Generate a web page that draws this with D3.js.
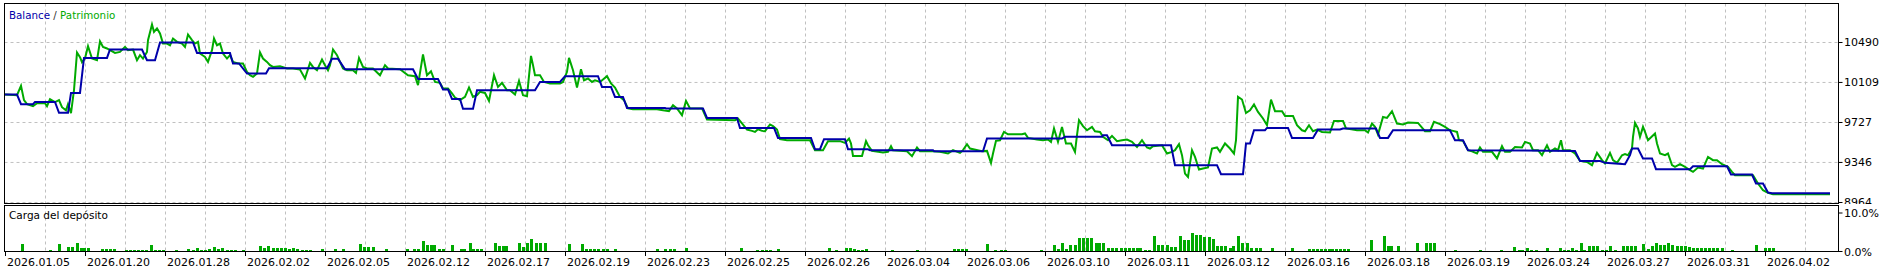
<!DOCTYPE html>
<html lang="es">
<head>
<meta charset="UTF-8">
<title>Balance / Patrimonio</title>
<style>
  html, body { margin: 0; padding: 0; background: #fff; }
  svg { display: block; }
  text { font-family: "DejaVu Sans", sans-serif; }
</style>
</head>
<body>
<script src="https://d3js.org/d3.v7.min.js"></script>
<script>
// x = deal number, y = account value
var dates = ["2026.01.05","2026.01.20","2026.01.28","2026.02.02","2026.02.05","2026.02.12",
  "2026.02.17","2026.02.19","2026.02.23","2026.02.25","2026.02.26","2026.03.04","2026.03.06",
  "2026.03.10","2026.03.11","2026.03.12","2026.03.16","2026.03.18","2026.03.19","2026.03.24",
  "2026.03.27","2026.03.31","2026.04.02"];
var dateStep = 20;              // deals between two date labels
var yTicks = [10490, 10109, 9727, 9346, 8964];
var loadTicks = [10, 0];

var equity = [
  [0,9994],[3,9987],[4,10076],[4.75,9940],[5.5,9902],[7,9882],[8,9911],[10,9911],[10.5,9882],
  [11.25,9949],[12.5,9921],[13.5,9940],[14.25,9873],[15.25,9844],[15.75,9902],[16.5,9816],
  [17.25,10035],[18,10395],[18.75,10350],[19.25,10302],[20,10340],[20.75,10455],[21.75,10337],
  [23,10321],[23.75,10502],[24.5,10448],[25.5,10433],[26.25,10417],[27.5,10391],[28.75,10400],
  [30,10448],[30.75,10417],[32,10423],[33,10321],[33.75,10369],[34.5,10337],[35.5,10400],
  [35.75,10512],[36.75,10662],[37.25,10591],[38,10624],[38.75,10576],[39.5,10480],[40.5,10480],
  [41.25,10464],[42,10528],[43,10496],[44.25,10480],[45,10448],[45.75,10566],[46.75,10512],
  [47.5,10480],[48.25,10496],[48.75,10385],[50,10353],[50.75,10305],[51.75,10417],[52.25,10528],
  [53,10464],[53.75,10480],[54.5,10385],[55.5,10337],[56.25,10369],[57,10305],[58.25,10290],
  [59.5,10290],[60.5,10210],[61.25,10178],[62,10162],[63,10194],[63.75,10395],[64.5,10337],
  [65.5,10305],[66.25,10274],[67,10257],[68.75,10264],[70.5,10242],[72,10242],[73.75,10232],
  [75,10147],[76.25,10295],[77,10257],[78,10226],[79.25,10328],[80,10274],[80.75,10226],
  [81.25,10274],[82,10423],[83,10369],[83.75,10305],[84.5,10242],[85.5,10226],[87,10226],
  [87.75,10200],[88.5,10343],[89.5,10257],[90.5,10242],[92,10242],[93.75,10178],[95,10274],
  [95.75,10242],[98.75,10235],[100.75,10178],[102.5,10169],[103.25,10083],[104.5,10376],
  [105.5,10178],[106.5,10216],[107.5,10114],[108.75,10105],[109.5,10051],[110.75,10051],
  [111.75,10004],[112.5,9965],[113.75,9940],[115,9971],[116,10061],[117,9971],[118,9987],
  [118.75,10019],[120,10009],[121,9933],[122.25,10178],[123.25,10066],[124.25,10105],
  [125.5,10035],[126.25,10035],[127.5,9994],[128.5,10124],[129.5,9987],[130.5,9978],
  [131.5,10362],[132,10274],[132.5,10178],[133.75,10178],[134.75,10114],[136.25,10099],
  [138.75,10099],[139.5,10114],[140.5,10210],[141,10343],[142,10226],[143,10061],[144,10235],
  [144.75,10130],[145.75,10147],[146.75,10114],[147.5,10130],[148.75,10114],[149.5,10137],
  [150.5,10169],[151.5,10099],[152.5,10061],[153.75,9971],[154.75,9940],[155.75,9861],
  [157,9854],[163,9854],[164.5,9844],[166,9835],[167,9892],[168,9861],[169.25,9797],
  [170.25,9933],[171.25,9861],[174.25,9861],[175.5,9756],[182.5,9749],[183.25,9765],
  [184.25,9718],[185.5,9660],[186.75,9647],[187.5,9637],[188.25,9663],[189.25,9647],[190,9644],
  [191.25,9708],[192,9692],[193,9660],[193.75,9568],[195.5,9558],[201.25,9558],[202.5,9463],
  [204.5,9463],[205.75,9549],[208.75,9549],[210,9532],[211,9574],[211.5,9527],[212,9408],
  [214.25,9408],[215.25,9549],[215.75,9510],[216.75,9456],[219.5,9441],[220.75,9447],
  [221.5,9501],[222,9463],[225.5,9453],[226.75,9406],[228,9489],[228.75,9453],[232,9453],
  [233.75,9447],[235.75,9431],[237,9463],[238.75,9437],[239.5,9463],[240.5,9520],[241.25,9479],
  [244.25,9453],[245.5,9456],[246.5,9342],[247,9431],[247.75,9552],[248.75,9558],[249.75,9637],
  [250.75,9615],[254.25,9615],[255,9622],[255.75,9580],[258,9565],[259.5,9558],[260.75,9565],
  [261.5,9542],[262.25,9670],[263.25,9542],[264.25,9685],[265.25,9527],[266.5,9527],
  [267.5,9447],[268,9606],[268.5,9749],[269.5,9692],[270.5,9653],[271.75,9685],[272.5,9644],
  [273.75,9637],[274.5,9590],[275.75,9558],[276.75,9599],[278,9549],[279.25,9558],[280.5,9565],
  [281.75,9542],[283,9494],[284.25,9558],[285.5,9489],[286.25,9479],[287,9501],[289.25,9510],
  [290.5,9431],[291.75,9447],[292.5,9463],[293.5,9520],[294.25,9415],[295,9240],[295.75,9208],
  [296.75,9463],[297.5,9399],[298.5,9279],[299.5,9288],[300.75,9298],[301.75,9479],[303,9489],
  [303.75,9447],[305,9527],[306.25,9479],[307.25,9431],[307.75,9558],[308.25,9971],
  [309.25,9946],[310.25,9818],[311.25,9844],[312.25,9899],[313.25,9828],[314.5,9765],
  [315.5,9701],[316.5,9946],[317.5,9835],[319.25,9835],[320,9790],[322,9790],[323,9701],
  [324.25,9653],[325,9644],[326,9701],[327,9644],[328,9660],[329.25,9637],[331.25,9632],
  [332.25,9742],[334.5,9742],[335.25,9670],[338,9653],[340,9653],[340.75,9632],[341.75,9717],
  [342.5,9685],[343.25,9612],[344.5,9780],[345.5,9771],[346.75,9835],[348,9717],[349.5,9708],
  [350.75,9727],[353.25,9723],[354.25,9679],[355,9644],[356.25,9644],[357.25,9733],
  [358.75,9711],[360,9685],[361.25,9653],[362,9647],[363,9637],[363.5,9558],[364.5,9552],
  [365.75,9463],[366.75,9453],[368,9431],[368.75,9489],[369.5,9447],[371.75,9447],[373,9384],
  [374.25,9501],[375,9447],[376.25,9447],[377.5,9494],[379.25,9489],[380,9542],[381.25,9527],
  [382,9463],[383.25,9463],[384.25,9415],[385.5,9510],[386.25,9447],[387.5,9479],[388.25,9463],
  [389,9558],[389.5,9463],[391.25,9463],[392.5,9431],[393.75,9361],[395.5,9351],[396.75,9320],
  [398,9437],[399.25,9368],[400,9336],[401.25,9437],[402,9368],[403,9342],[404.25,9415],
  [405,9425],[405.75,9415],[406.75,9479],[407,9590],[407.5,9723],[408.25,9670],[408.75,9590],
  [409.5,9685],[410,9637],[410.75,9558],[412.5,9622],[413,9527],[413.75,9431],[415,9415],
  [415.75,9431],[416.75,9320],[417.5,9304],[418.75,9329],[420,9304],[421.25,9272],[422,9256],
  [423.25,9298],[424.5,9288],[425.75,9399],[427,9368],[428,9368],[429.25,9329],[430.75,9304],
  [431.75,9256],[432.5,9224],[437,9224],[438.25,9145],[439.5,9081],[440.75,9056],[442,9043],
  [456.25,9043]
];

var balance = [
  [0,9994],[3,9994],[4,9902],[7,9902],[7.5,9923],[12.5,9923],[13.5,9819],[15.75,9819],
  [16.5,10009],[18.75,10009],[19.75,10343],[25.5,10343],[26.25,10423],[34.25,10423],
  [35.5,10321],[37.5,10321],[38.75,10490],[47,10490],[48,10391],[56.25,10391],[57,10290],
  [58.5,10290],[60.5,10194],[65.25,10194],[66,10245],[80.5,10245],[81.75,10334],[83.25,10334],
  [85,10235],[102,10235],[103.25,10143],[108.25,10143],[109.5,10042],[110.75,10042],
  [111.75,9952],[113.75,9952],[114.5,9857],[117,9857],[118,10035],[132.5,10035],[133.75,10114],
  [138.75,10114],[140,10169],[148.25,10169],[149.25,10066],[151.5,10066],[152.5,9971],
  [154.5,9971],[155.5,9866],[165,9866],[165.25,9861],[174.5,9861],[175.5,9771],[183,9771],
  [183.75,9675],[192.25,9675],[193.25,9580],[201.5,9580],[202.5,9472],[203.75,9472],
  [204.75,9568],[210,9568],[210.75,9472],[215.75,9472],[216.25,9463],[232,9463],[232.25,9453],
  [244.5,9453],[245.5,9574],[264.25,9574],[265,9590],[274.25,9590],[274.5,9606],[275.5,9606],
  [276.75,9510],[291.5,9510],[292.5,9320],[303,9320],[304,9234],[309.5,9234],[310.25,9527],
  [311.25,9527],[312.25,9653],[315,9653],[315.5,9675],[320.75,9675],[321.75,9580],[327,9580],
  [328.25,9660],[333.75,9660],[334.5,9670],[342.75,9670],[343.75,9580],[345.75,9580],
  [347,9653],[361.25,9653],[362.5,9558],[364.5,9558],[365.75,9463],[392.5,9456],[393.75,9361],
  [398.75,9361],[400,9342],[405,9329],[406.25,9415],[406.75,9479],[408.25,9479],[409.5,9384],
  [411.75,9384],[412.75,9282],[421.25,9282],[422,9310],[430.5,9310],[431.5,9231],[436.75,9231],
  [437.75,9145],[439.5,9145],[440.75,9059],[441.75,9053],[456.25,9053]
];

// deposit load, % per deal
var load = [
  [4.25,1.9],[11.25,0.4],[13.5,1.9],[15.75,1.2],[16.75,1.2],[18,2.2],[19,1.0],[19.75,1.0],
  [20.75,0.9],[24.25,0.7],[25.25,0.7],[26.25,0.7],[27.25,0.7],[30.25,0.3],[31.25,0.3],
  [32.25,0.3],[33.25,0.3],[34.25,0.3],[35.25,0.3],[36.5,1.7],[37.5,0.3],[38.5,0.3],[39.5,0.3],
  [42.75,0.3],[45.75,0.7],[47,0.3],[48,0.9],[49,0.4],[50,0.4],[51,0.6],[52.25,1.2],[53.25,0.6],
  [54.25,0.9],[55.5,0.4],[56.5,0.4],[57.5,0.4],[59.5,0.4],[63.75,1.4],[64.75,1.0],[65.75,1.4],
  [67,1.0],[68,1.0],[69,1.0],[70,1.0],[71,0.6],[72,0.9],[73,0.6],[74.25,0.4],[75.25,0.4],
  [76.25,0.4],[79.25,0.7],[82.5,0.7],[84.5,0.7],[88.75,1.9],[89.75,1.2],[90.75,1.2],[92,1.2],
  [95.25,0.7],
  [100.4,0.7],[102.3,0.7],[103.25,0.7],[104.5,2.6],[105.5,1.8],[106.4,1.8],[107.35,1.8],
  [108.6,0.7],[109.55,0.7],[111.85,1.7],[113.9,0.7],[114.8,0.7],[116.2,2.2],[117.1,0.7],
  [118.1,0.7],[119,0.7],[122.5,2.3],[123.4,1.3],[124.4,1.3],[125.35,1.3],[128.6,2.3],
  [129.55,1.1],[130.5,2.2],[131.6,3.3],[132.7,2.3],[133.85,2.3],[134.9,2.3],[141.1,2.0],
  [144.2,2.0],[145.35,0.7],[146.3,0.7],[147.25,0.7],[148.2,0.7],[149.45,0.7],[150.6,0.7],
  [152.6,0.7],[163,0.7],[165,0.7],[166.2,0.7],[167.15,0.7],[170.3,1.0],[183.9,1.0],[188,0.4],
  [189.15,0.4],[190.3,0.4],[191.35,0.4],[193.3,0.7],[205.9,1.0],[207.8,0.3],[210.2,1.0],
  [211.35,1.0],[212.3,0.7],[213.25,0.3],[214.2,0.3],[215.3,0.7],[221.7,0.3],[227.9,0.5],
  [237.2,0.7],[238.2,0.7],[239.2,0.7],[240.15,0.7],[245.6,2.0],[247.5,0.5],
  [249,0.5],[250,0.5],[259.1,0.3],[262.15,1.6],[263.3,0.7],[264.25,2.2],[265.2,0.7],
  [266.25,1.6],[267.4,1.6],[268.55,3.5],[269.6,3.5],[270.55,3.5],[271.5,3.5],[272.7,2.2],
  [273.6,2.2],[274.6,2.2],[275.8,1.0],[276.8,1.0],[277.7,1.0],[279.1,1.0],[280,1.0],[281,1.0],
  [281.95,1.0],[282.9,1.0],[283.85,1.0],[285.1,0.5],[286,0.5],[287.3,3.9],[288.25,1.8],
  [289.2,1.8],[290.55,1.8],[291.5,1.1],[292.5,1.1],[293.7,3.9],[294.7,3.0],[295.8,3.0],
  [296.8,4.9],[297.8,4.2],[298.8,4.2],[299.75,3.7],[300.9,3.7],[302,3.3],[303.1,1.4],[304,1.4],
  [305,1.4],[306.15,1.0],[307.1,1.4],[308.35,3.9],[309.3,2.2],[310.45,2.2],[311.6,1.0],
  [312.65,1.0],[313.8,1.0],[316.7,1.0],[321.75,1.0],[326,0.7],[327,0.7],[328,0.7],[328.9,0.7],
  [329.9,0.7],[330.9,0.7],[331.8,0.7],[332.8,0.7],[333.8,0.7],[334.7,0.7],[335.7,0.7],
  [341.55,2.9],[344.7,3.9],[345.65,1.4],[346.6,1.4],[348.25,1.4],[353,2.2],[355.2,2.2],
  [356.2,2.2],[357.3,2.2],[362.6,0.3],[368.8,0.3],[374.1,0.3],[377.2,1.1],[378.4,0.5],
  [379.3,0.5],[380.5,1.0],[381.4,0.3],[382.7,0.3],[385.55,1.0],[388.7,1.0],[389.85,0.3],
  [390.8,0.3],[391.8,1.0],[392.7,0.3],[393.9,2.2],[394.8,0.5],[396.1,1.3],[397,1.3],[398,1.3],
  [399.25,0.4],[400.25,0.3],[401.25,1.3],[402.5,0.3],[404.5,1.4],[405.5,1.4],[406.5,1.4],
  [407.5,1.4],[409.5,2.0],[410.75,0.7],[411.75,1.3],[412.75,2.3],[413.75,1.6],[414.75,1.8],
  [415.75,2.3],[416.75,1.6],[418,1.3],[419,1.3],[420,1.3],[421,1.1],[422,0.9],[423,0.9],
  [424,0.9],[425,0.9],[426,0.9],[427,0.9],[428,0.9],[429.25,0.9],[431.75,0.5],[437.75,1.6],
  [440,0.9],[441,0.9],[442,0.9]
];

var width = 1893, height = 272;
var left = 4.5, right = 1838.5;
var mainTop = 3.5, mainBottom = 203.5, subTop = 205.5, subBottom = 251.5;
var blue = "#0000aa", green = "#00aa00", gridColor = "#c0c0c0";

var svg = d3.select("body").append("svg")
    .attr("width", width)
    .attr("height", height);

var x = d3.scaleLinear().domain([0, 458.25]).range([5, 1838]);
var y = d3.scaleLinear().domain([8964, 10490]).range([202.5, 42.5]);
var yLoad = d3.scaleLinear().domain([0, 10]).range([251.5, 213]);

var gridX = d3.range(10, 458, 10);

// ---- main panel ----
var main = svg.append("g");
main.selectAll(".vgrid").data(gridX).enter().append("line")
    .attr("x1", d => Math.round(x(d)) + 0.5).attr("x2", d => Math.round(x(d)) + 0.5)
    .attr("y1", mainTop).attr("y2", mainBottom)
    .attr("stroke", gridColor).attr("stroke-dasharray", "3,3");
main.selectAll(".hgrid").data(yTicks).enter().append("line")
    .attr("x1", left).attr("x2", right)
    .attr("y1", d => y(d)).attr("y2", d => y(d))
    .attr("stroke", gridColor).attr("stroke-dasharray", "3,3");

svg.append("clipPath").attr("id", "clipMain").append("rect")
    .attr("x", left).attr("y", mainTop).attr("width", right - left).attr("height", mainBottom - mainTop);

var line = d3.line().x(d => x(d[0])).y(d => y(d[1]));
main.append("path").datum(equity).attr("d", line)
    .attr("fill", "none").attr("stroke", green).attr("stroke-width", 2)
    .attr("clip-path", "url(#clipMain)");
main.append("path").datum(balance).attr("d", line)
    .attr("fill", "none").attr("stroke", blue).attr("stroke-width", 2)
    .attr("clip-path", "url(#clipMain)");

// right axis
main.selectAll(".ytick").data(yTicks).enter().append("line")
    .attr("x1", right).attr("x2", right + 4)
    .attr("y1", d => y(d)).attr("y2", d => y(d)).attr("stroke", "#000");
main.selectAll(".ylabel").data(yTicks).enter().append("text")
    .attr("x", 1844).attr("y", d => y(d)).attr("dy", "0.35em")
    .attr("font-size", 11).attr("fill", "#000").text(d => d);

main.append("rect").attr("x", left).attr("y", mainTop)
    .attr("width", right - left).attr("height", mainBottom - mainTop)
    .attr("fill", "none").attr("stroke", "#000");

var legend = main.append("text").attr("x", 9).attr("y", 19).attr("font-size", 10.3);
legend.append("tspan").attr("fill", blue).text("Balance");
legend.append("tspan").attr("fill", "#333").text(" / ");
legend.append("tspan").attr("fill", green).text("Patrimonio");

// ---- deposit load panel ----
svg.append("rect").attr("x", 0).attr("y", 204).attr("width", width).attr("height", height - 204)
    .attr("fill", "#fff");
var sub = svg.append("g");
sub.selectAll(".vgrid").data(gridX).enter().append("line")
    .attr("x1", d => Math.round(x(d)) + 0.5).attr("x2", d => Math.round(x(d)) + 0.5)
    .attr("y1", subTop).attr("y2", subBottom)
    .attr("stroke", gridColor).attr("stroke-dasharray", "3,3");

sub.selectAll(".bar").data(load).enter().append("rect")
    .attr("x", d => Math.round(x(d[0])) - 1)
    .attr("width", 3)
    .attr("y", d => Math.round(yLoad(d[1])))
    .attr("height", d => Math.max(1, Math.round(yLoad(0)) - Math.round(yLoad(d[1]))))
    .attr("fill", green);

sub.append("rect").attr("x", left).attr("y", subTop)
    .attr("width", right - left).attr("height", subBottom - subTop)
    .attr("fill", "none").attr("stroke", "#000");

sub.selectAll(".ltick").data(loadTicks).enter().append("line")
    .attr("x1", right).attr("x2", right + 4)
    .attr("y1", d => yLoad(d)).attr("y2", d => yLoad(d)).attr("stroke", "#000");
sub.selectAll(".llabel").data(loadTicks).enter().append("text")
    .attr("x", 1844).attr("y", d => yLoad(d) + (d === 0 ? 1 : 0)).attr("dy", "0.35em")
    .attr("font-size", 11).attr("fill", "#000").text(d => d.toFixed(1) + "%");

sub.append("text").attr("x", 9).attr("y", 218.5).attr("font-size", 10.5)
    .attr("fill", "#000").text("Carga del depósito");

// date axis
sub.selectAll(".xtick").data(dates).enter().append("line")
    .attr("x1", (d, i) => Math.round(x(i * dateStep)) + 0.5)
    .attr("x2", (d, i) => Math.round(x(i * dateStep)) + 0.5)
    .attr("y1", subBottom).attr("y2", 256).attr("stroke", "#000");
sub.selectAll(".xlabel").data(dates).enter().append("text")
    .attr("x", (d, i) => x(i * dateStep) + 2).attr("y", 266)
    .attr("font-size", 11).attr("fill", "#000").text(d => d);
</script>
</body>
</html>
